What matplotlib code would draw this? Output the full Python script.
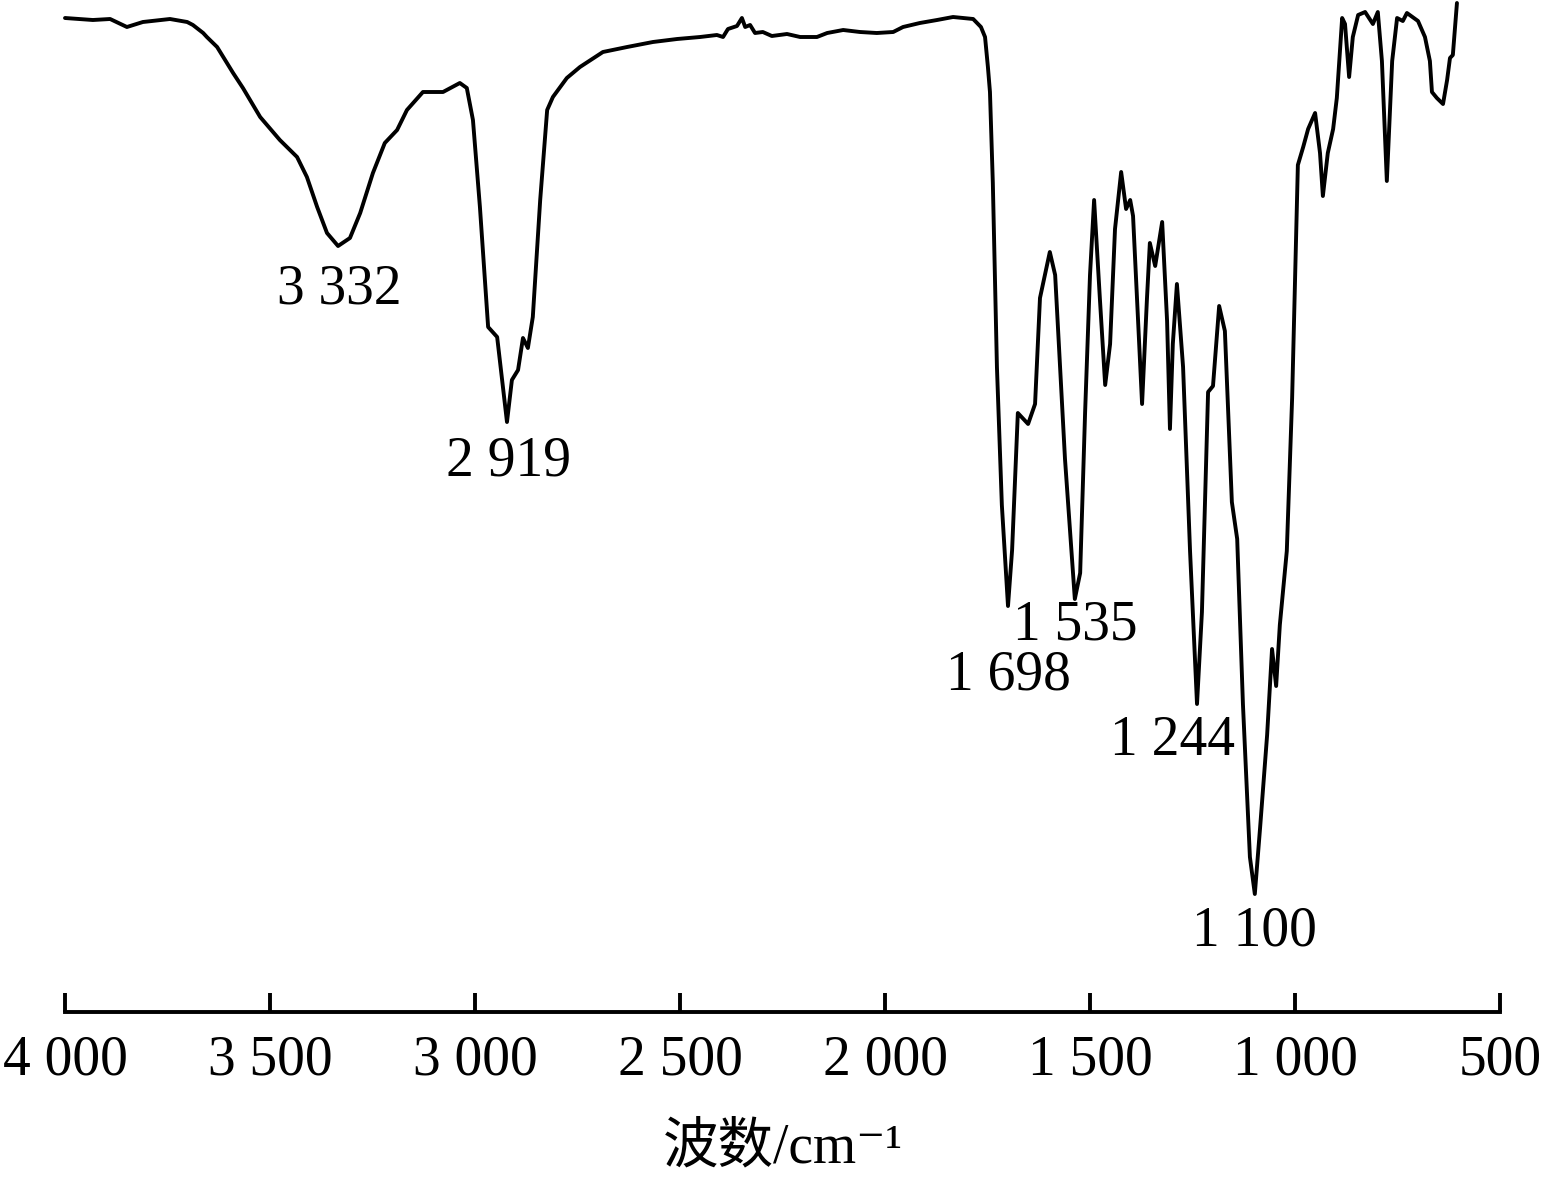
import numpy as np
import matplotlib
matplotlib.use("Agg")
import matplotlib.pyplot as plt

# FTIR spectrum (wavenumber / cm-1, transmittance in arb. %)
wavenumber = [4000, 3932, 3890, 3849, 3810, 3744, 3702, 3688, 3663, 3654, 3629, 3590,
              3566, 3524, 3476, 3434, 3410, 3385, 3361, 3334, 3305, 3280, 3249, 3220,
              3190, 3166, 3127, 3078, 3037, 3020, 3005, 2988, 2968, 2946, 2922, 2910,
              2895, 2883, 2871, 2859, 2841, 2824, 2810, 2776, 2744, 2688, 2629, 2566,
              2507, 2451, 2410, 2395, 2383, 2361, 2349, 2341, 2329, 2317, 2298, 2276,
              2239, 2207, 2166, 2141, 2102, 2061, 2020, 1980, 1956, 1915, 1873, 1834,
              1785, 1766, 1756, 1749, 1744, 1737, 1727, 1715, 1700, 1690, 1676, 1651,
              1634, 1622, 1598, 1585, 1561, 1537, 1524, 1512, 1500, 1490, 1476, 1463,
              1451, 1439, 1424, 1412, 1402, 1395, 1373, 1361, 1354, 1341, 1324, 1312,
              1305, 1298, 1288, 1273, 1256, 1239, 1227, 1212, 1200, 1185, 1171, 1154,
              1141, 1127, 1110, 1098, 1085, 1068, 1056, 1046, 1037, 1020, 1007, 993,
              980, 968, 951, 939, 932, 920, 907, 898, 885, 878, 868, 859,
              846, 829, 810, 798, 788, 776, 763, 751, 737, 727, 700, 683,
              671, 666, 654, 639, 629, 622, 615, 605]
transmittance = [99.4, 99.2, 99.3, 98.5, 99.0, 99.3, 99.0, 98.7, 97.9, 97.5, 96.5, 93.9,
                 92.4, 89.5, 87.2, 85.5, 83.5, 80.5, 77.9, 76.6, 77.4, 79.9, 83.9, 86.9,
                 88.2, 90.2, 92.0, 92.0, 92.9, 92.4, 89.2, 80.5, 68.5, 67.5, 59.0, 63.2,
                 64.2, 67.4, 66.4, 69.5, 81.2, 90.2, 91.5, 93.4, 94.5, 96.0, 96.5, 97.0,
                 97.3, 97.5, 97.7, 97.5, 98.3, 98.6, 99.4, 98.5, 98.7, 97.9, 98.0, 97.6,
                 97.8, 97.5, 97.5, 97.9, 98.2, 98.0, 97.9, 98.0, 98.5, 98.9, 99.2, 99.5,
                 99.3, 98.5, 97.5, 94.5, 92.0, 82.9, 64.5, 50.7, 40.6, 46.2, 59.9, 58.8,
                 60.8, 71.4, 76.0, 73.7, 55.3, 41.3, 43.9, 59.9, 73.7, 81.2, 71.4, 62.7,
                 66.8, 78.3, 84.0, 80.3, 81.2, 79.6, 60.8, 71.4, 76.9, 74.6, 79.0, 69.1,
                 58.3, 66.8, 72.8, 64.5, 46.1, 30.8, 40.0, 62.0, 62.6, 70.6, 68.1, 51.0,
                 47.3, 30.8, 15.5, 11.8, 18.5, 27.7, 36.3, 32.6, 38.7, 46.1, 61.4, 84.7,
                 86.5, 88.3, 89.9, 85.9, 81.6, 85.9, 88.3, 91.4, 99.4, 98.8, 93.5, 97.5,
                 99.7, 100.0, 98.8, 100.0, 95.1, 83.1, 95.1, 99.4, 99.1, 99.9, 99.1, 97.5,
                 95.1, 92.0, 91.4, 90.8, 93.2, 95.4, 95.7, 100.9]

# peak annotations: text, x position, y position
peak_labels = ["3 332", "2 919", "1 535", "1 698", "1 244", "1 100"]
peak_x = [3332, 2919, 1535, 1698, 1300, 1100]
peak_y = [72.2, 55.0, 38.7, 33.7, 27.1, 8.1]

ticks = [4000, 3500, 3000, 2500, 2000, 1500, 1000, 500]
tick_labels = ["4 000", "3 500", "3 000", "2 500", "2 000", "1 500", "1 000", "500"]

serif = ["Liberation Serif", "Noto Sans CJK SC", "DejaVu Sans"]

fig = plt.figure(figsize=(15.44, 11.81), dpi=100)
ax = fig.add_axes([65 / 1544, 169 / 1181, 1435 / 1544, 1012 / 1181])

ax.plot(wavenumber, transmittance, color="black", lw=2.8, clip_on=False,
        solid_joinstyle="round", solid_capstyle="round")

for txt, px, py in zip(peak_labels, peak_x, peak_y):
    ax.text(px, py, txt, ha="center", va="center", fontsize=40, family=serif)

ax.set_xlim(4000, 500)
ax.set_ylim(0, 101.2)
ax.set_yticks([])
for s in ["top", "right", "left"]:
    ax.spines[s].set_visible(False)
ax.spines["bottom"].set_linewidth(2.8)

ax.set_xticks(ticks)
ax.set_xticklabels(tick_labels, fontsize=40, family=serif)
ax.tick_params(axis="x", direction="in", length=14, width=2.8, pad=16)

ax.set_xlabel("波数/cm⁻¹", fontsize=40, family=serif, labelpad=26)

fig.savefig("out.png", dpi=100)
